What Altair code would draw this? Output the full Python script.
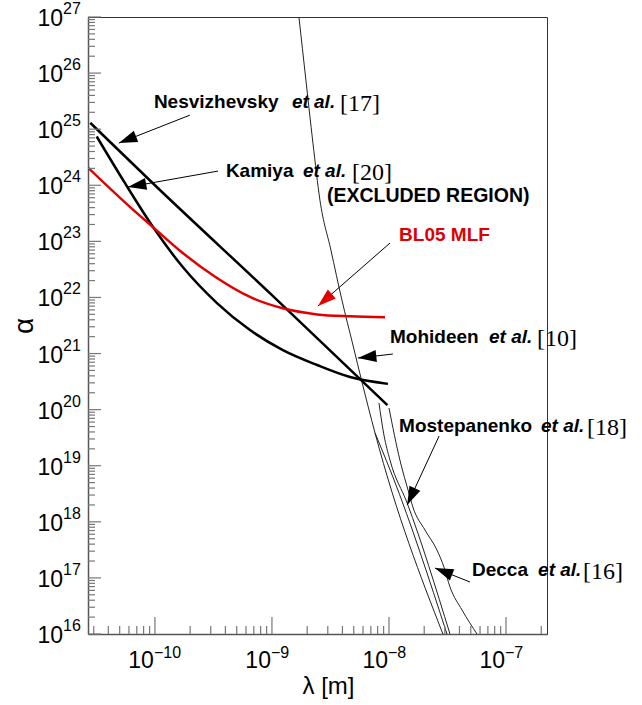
import altair as alt
import pandas as pd

# ---------------- curves ----------------
nes_x = [2.8e-11, 1.0e-10, 1.0e-9, 9.7e-9]
nes_y = [1.3e25, 1.0e24, 1.1e22, 1.2e20]

kam_x = [3.18e-11, 5.55e-11, 9.8e-11, 1.73e-10, 3.39e-10, 6.49e-10, 1.24e-9, 2.43e-9, 4.65e-9, 9.8e-9]
kam_y = [7.4e24, 1.09e24, 1.71e23, 3.48e22, 7.94e21, 2.62e21, 1.15e21, 6.24e20, 3.81e20, 2.88e20]

bl_x = [2.69e-11, 6.53e-11, 9.8e-11, 1.73e-10, 3.39e-10, 6.49e-10, 1.24e-9, 2.43e-9, 4.65e-9, 9.25e-9]
bl_y = [2.05e24, 3.64e23, 1.73e23, 6.18e22, 2.22e22, 1.02e22, 6.4e21, 4.99e21, 4.6e21, 4.43e21]

moh_x = [1.70e-9, 1.95e-9, 2.24e-9, 2.57e-9, 3.19e-9, 3.96e-9, 4.92e-9, 5.88e-9, 7.60e-9, 2.89e-8]
moh_y = [1e27, 7.5e25, 5.65e24, 5.45e23, 7.0e22, 9.0e21, 1.42e21, 3.1e20, 3.83e19, 1e16]

mos1_x = [7.60e-9, 8.38e-9, 1.08e-8, 3.13e-8]
mos1_y = [3.83e19, 2.34e19, 6.3e18, 1e16]

mos2_x = [8.21e-9, 9.06e-9, 1.02e-8, 1.43e-8, 3.32e-8]
mos2_y = [1.31e20, 3.52e19, 1.26e19, 2.16e18, 1e16]

dec_x = [1.0e-8, 1.24e-8, 1.48e-8, 1.60e-8, 2.03e-8, 2.57e-8, 2.95e-8, 3.32e-8, 4.21e-8, 5.65e-8]
dec_y = [1.07e20, 1.26e19, 3.26e18, 1.84e18, 7.14e17, 3.14e17, 1.56e17, 6.9e16, 2.68e16, 1e16]

# ---------------- annotations ----------------
ann_main = ["Nesvizhevsky", "Kamiya", "Mohideen", "Mostepanenko", "Decca"]
ann_x = [9.8e-11, 4.04e-10, 1.02e-8, 1.22e-8, 5.12e-8]
ann_y = [2.38e25, 1.40e24, 1.54e21, 3.99e19, 1.08e17]
etal_x = [1.48e-9, 1.84e-9, 7.16e-8, 1.99e-7, 1.88e-7]
ref_txt = ["[17]", "[20]", "[10]", "[18]", "[16]"]
ref_x = [3.81e-9, 4.83e-9, 1.84e-7, 4.92e-7, 4.55e-7]

excl_txt = ["(EXCLUDED REGION)"]
excl_x = [2.95e-9]
excl_y = [5.02e23]

bl_txt = ["BL05 MLF"]
bl_lx = [1.22e-8]
bl_ly = [1.01e23]

arr_x1 = [1.99e-10, 3.46e-10, 1.02e-8, 1.08e-8, 2.68e-8, 4.92e-8]
arr_y1 = [1.78e25, 1.79e24, 9.33e22, 9.8e20, 3.38e19, 8.45e16]
arr_x2 = [4.92e-11, 5.88e-11, 2.47e-9, 5.43e-9, 1.43e-8, 2.47e-8]
arr_y2 = [5.65e24, 9.29e23, 7.03e21, 8.32e20, 1.99e18, 1.50e17]
arr_ang = [158.5, 169.9, 138.8, 173.5, 114.9, 201.8]
arr_col = ["black", "black", "#e00000", "black", "black", "black"]

# ---------------- ticks ----------------
x_dec = [1e-10, 1e-9, 1e-8, 1e-7]
x_exp = ["\u221210", "\u22129", "\u22128", "\u22127"]
x_minor = [m * d for d in [1e-11, 1e-10, 1e-9, 1e-8] for m in range(2, 10) if 2.68e-11 <= m * d] + [2e-7]
y_dec = [10.0 ** e for e in range(16, 28)]
y_exp = [str(e) for e in range(16, 28)]
y_minor = [m * d for d in y_dec[:-1] for m in range(2, 10)]

W, H = 459, 617
xs = alt.Scale(type="log", domain=[2.68e-11, 2.24e-7], nice=False)
ys = alt.Scale(type="log", domain=[1e16, 1e27], nice=False)
FONT = "Liberation Sans"

xaxis = alt.Axis(title="λ [m]", labels=False, ticks=False, grid=False, domainColor="#555",
                 domainWidth=1.5, titleFont=FONT, titleFontSize=24, titleFontWeight="normal",
                 titleColor="black", titlePadding=40, titleX=240)
yaxis = alt.Axis(title="α", labels=False, ticks=False, grid=False, domainColor="#555",
                 domainWidth=1.5, titleFont=FONT, titleFontSize=28, titleFontWeight="normal",
                 titleColor="black", titlePadding=50)


def X(f):
    return alt.X(f"{f}:Q", scale=xs, axis=xaxis)


def Y(f):
    return alt.Y(f"{f}:Q", scale=ys, axis=yaxis)


def series(name, xv, yv):
    return pd.DataFrame({"x": xv, "y": yv, "s": name, "o": list(range(len(xv)))})


thick_df = pd.concat([series("nes", nes_x, nes_y), series("kam", kam_x, kam_y)])
red_df = series("bl", bl_x, bl_y)
thin_df = pd.concat([series("moh", moh_x, moh_y), series("mos1", mos1_x, mos1_y),
                     series("mos2", mos2_x, mos2_y), series("dec", dec_x, dec_y)])

thick = alt.Chart(thick_df).mark_line(color="black", strokeWidth=2.5, clip=True,
                                      interpolate="monotone").encode(
    x=X("x"), y=Y("y"), detail="s:N", order="o:Q")
red = alt.Chart(red_df).mark_line(color="#e00000", strokeWidth=2.5, clip=True,
                                  interpolate="monotone").encode(
    x=X("x"), y=Y("y"), detail="s:N", order="o:Q")
thin = alt.Chart(thin_df).mark_line(color="#222", strokeWidth=1, clip=True,
                                    interpolate="monotone").encode(
    x=X("x"), y=Y("y"), detail="s:N", order="o:Q")

# ticks (inward)
xmaj = alt.Chart(pd.DataFrame({"v": x_dec})).mark_rule(color="#777", strokeWidth=1.2).encode(
    x=X("v"), y=alt.value(H), y2=alt.value(H - 17))
xmin = alt.Chart(pd.DataFrame({"v": x_minor})).mark_rule(color="#777", strokeWidth=1.2).encode(
    x=X("v"), y=alt.value(H), y2=alt.value(H - 8))
ymaj = alt.Chart(pd.DataFrame({"v": y_dec})).mark_rule(color="#777", strokeWidth=1.2).encode(
    y=Y("v"), x=alt.value(0), x2=alt.value(13))
ymin = alt.Chart(pd.DataFrame({"v": y_minor})).mark_rule(color="#777", strokeWidth=1.2).encode(
    y=Y("v"), x=alt.value(0), x2=alt.value(7))

# tick labels 10^n
ylab_df = pd.DataFrame({"v": y_dec, "e": y_exp})
ylab10 = alt.Chart(ylab_df).mark_text(align="right", baseline="alphabetic", font=FONT, fontSize=23,
                                      dx=-25, dy=9, color="black").encode(
    y=Y("v"), x=alt.value(0), text=alt.value("10"))
ylabE = alt.Chart(ylab_df).mark_text(align="left", baseline="alphabetic", font=FONT, fontSize=16,
                                     dx=-25, dy=-3, color="black").encode(
    y=Y("v"), x=alt.value(0), text="e:N")
xlab_df = pd.DataFrame({"v": x_dec, "e": x_exp})
xlab10 = alt.Chart(xlab_df).mark_text(align="right", baseline="alphabetic", font=FONT, fontSize=23,
                                      dx=-1, color="black").encode(
    x=X("v"), y=alt.value(H + 34), text=alt.value("10"))
xlabE = alt.Chart(xlab_df).mark_text(align="left", baseline="alphabetic", font=FONT, fontSize=16,
                                     dx=-1, color="black").encode(
    x=X("v"), y=alt.value(H + 24), text="e:N")

# arrows
arr_df = pd.DataFrame({"x1": arr_x1, "y1": arr_y1, "x2": arr_x2, "y2": arr_y2,
                       "a": arr_ang, "c": arr_col})
arr_lines = alt.Chart(arr_df).mark_rule(color="black", strokeWidth=1).encode(
    x=X("x1"), y=Y("y1"), x2="x2:Q", y2="y2:Q")
arr_heads = alt.Chart(arr_df).mark_point(filled=True, shape="M0,0L-2,-0.65L-2,0.65Z", size=340,
                                         opacity=1, strokeWidth=0).encode(
    x=X("x2"), y=Y("y2"), angle=alt.Angle("a:Q", scale=None), color=alt.Color("c:N", scale=None))

# labels
ann_df = pd.DataFrame({"m": ann_main, "x": ann_x, "y": ann_y, "ex": etal_x,
                       "r": ref_txt, "rx": ref_x})
t_main = alt.Chart(ann_df).mark_text(align="left", baseline="alphabetic", font=FONT, fontSize=19,
                                     fontWeight="bold", color="black").encode(
    x=X("x"), y=Y("y"), text="m:N")
t_etal = alt.Chart(ann_df).mark_text(align="left", baseline="alphabetic", font=FONT, fontSize=19,
                                     fontWeight="bold", fontStyle="italic", color="black").encode(
    x=X("ex"), y=Y("y"), text=alt.value("et al."))
t_ref = alt.Chart(ann_df).mark_text(align="left", baseline="alphabetic", font="Liberation Serif",
                                    fontSize=24, dy=3, color="black").encode(
    x=X("rx"), y=Y("y"), text="r:N")
t_excl = alt.Chart(pd.DataFrame({"t": excl_txt, "x": excl_x, "y": excl_y})).mark_text(
    align="left", baseline="alphabetic", font=FONT, fontSize=19.5, fontWeight="bold",
    color="black").encode(x=X("x"), y=Y("y"), text="t:N")
t_bl = alt.Chart(pd.DataFrame({"t": bl_txt, "x": bl_lx, "y": bl_ly})).mark_text(
    align="left", baseline="alphabetic", font=FONT, fontSize=19, fontWeight="bold",
    color="#dd0000").encode(x=X("x"), y=Y("y"), text="t:N")

chart = alt.layer(
    thin, thick, red, xmaj, xmin, ymaj, ymin, ylab10, ylabE, xlab10, xlabE,
    arr_lines, arr_heads, t_main, t_etal, t_ref, t_excl, t_bl
).properties(
    width=W, height=H,
    autosize=alt.AutoSizeParams(type="none"),
    padding={"left": 88, "top": 17, "right": 95, "bottom": 71},
    background="white",
).configure_view(stroke="#333", strokeWidth=1)

chart.save("out.html", embed_options={"renderer": "svg", "actions": False})
